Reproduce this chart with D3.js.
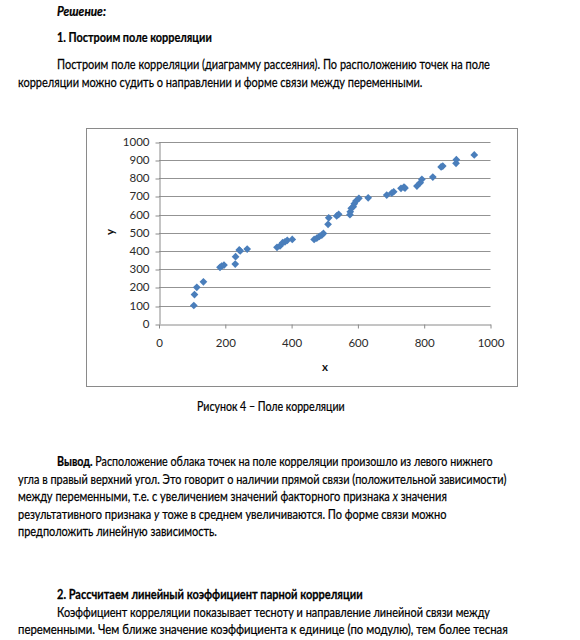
<!DOCTYPE html>
<html>
<head>
<meta charset="utf-8">
<script src="https://cdn.jsdelivr.net/npm/d3@7/dist/d3.min.js"></script>
<style>
  html, body { margin: 0; padding: 0; background: #fff; }
  svg { display: block; }
  text { font-family: Lato, "Open Sans", sans-serif; }
</style>
</head>
<body>
<svg id="page" width="580" height="640"></svg>
<script>
// ---- data ----
const xValues = [105, 107, 114, 134, 184, 189, 196, 230, 231, 242, 245, 266,
  356, 365, 373, 380, 387, 402, 468, 476, 484, 491, 496, 510, 512, 536, 542,
  576, 577, 580, 586, 589, 594, 603, 631, 687, 702, 708, 730, 739, 742, 778,
  788, 793, 826, 851, 856, 896, 897, 951];
const yValues = [100, 160, 200, 230, 310, 317, 322, 328, 368, 405, 400, 410,
  420, 427, 445, 450, 458, 463, 463, 470, 480, 487, 496, 546, 582, 592, 601,
  599, 615, 634, 643, 659, 674, 689, 692, 707, 718, 725, 744, 751, 745, 756,
  775, 793, 806, 861, 866, 881, 901, 927];
const xTicks = [0, 200, 400, 600, 800, 1000];
const yTicks = [0, 100, 200, 300, 400, 500, 600, 700, 800, 900, 1000];
const xTitle = "x";
const yTitle = "y";
const caption = "Рисунок 4 – Поле корреляции";

const svg = d3.select("#page");

// ---- body text ----
const lines = [
  {x: 57, y: 16, w: 49, seg: [["Решение:", "bold", "italic"]]},
  {x: 57, y: 42, w: 155, seg: [["1. Построим поле корреляции", "bold", "normal"]]},
  {x: 57, y: 69, w: 433, seg: [["Построим поле корреляции (диаграмму рассеяния). По расположению точек на поле", "normal", "normal"]]},
  {x: 18, y: 87, w: 405, seg: [["корреляции можно судить о направлении и форме связи между переменными.", "normal", "normal"]]},
  {x: 197, y: 411, w: 148, seg: [[caption, "normal", "normal"]]},
  {x: 57, y: 466, w: 436, seg: [["Вывод.", "bold", "normal"], [" Расположение облака точек на поле корреляции произошло из левого нижнего", "normal", "normal"]]},
  {x: 18, y: 483.5, w: 489, seg: [["угла в правый верхний угол. Это говорит о наличии прямой связи (положительной зависимости)", "normal", "normal"]]},
  {x: 18, y: 501, w: 429, seg: [["между переменными, т.е. с увеличением значений факторного признака ", "normal", "normal"], ["x", "normal", "italic"], [" значения", "normal", "normal"]]},
  {x: 18, y: 518.5, w: 429, seg: [["результативного признака ", "normal", "normal"], ["y", "normal", "italic"], [" тоже в среднем увеличиваются. По форме связи можно", "normal", "normal"]]},
  {x: 18, y: 536, w: 199, seg: [["предположить линейную зависимость.", "normal", "normal"]]},
  {x: 57, y: 599, w: 306, seg: [["2. Рассчитаем линейный коэффициент парной корреляции", "bold", "normal"]]},
  {x: 57, y: 617, w: 433, seg: [["Коэффициент корреляции показывает тесноту и направление линейной связи между", "normal", "normal"]]},
  {x: 18, y: 634, w: 490, seg: [["переменными. Чем ближе значение коэффициента к единице (по модулю), тем более тесная", "normal", "normal"]]}
];

lines.forEach(l => {
  const t = svg.append("text")
    .attr("font-size", 14)
    .attr("fill", "#000")
    .attr("stroke", "#000").attr("stroke-width", 0.25);
  l.seg.forEach(s => {
    t.append("tspan").text(s[0]).attr("font-weight", s[1]).attr("font-style", s[2]);
  });
  const nat = t.node().getComputedTextLength();
  const sx = l.w ? l.w / nat : 1;
  t.attr("transform", `translate(${l.x},${l.y}) scale(${sx},1)`);
});

// ---- chart ----
svg.append("rect")
  .attr("x", 86.5).attr("y", 128.5).attr("width", 431).attr("height", 258)
  .attr("fill", "#fff").attr("stroke", "#8a8a8a").attr("stroke-width", 1);

const plot = {left: 159, right: 490.5, top: 141.7, bottom: 323.7};
const x = d3.scaleLinear().domain([0, 1000]).range([plot.left, plot.right]);
const y = d3.scaleLinear().domain([0, 1000]).range([plot.bottom, plot.top]);

// gridlines
svg.append("g").selectAll("line").data(yTicks.filter(d => d > 0)).join("line")
  .attr("x1", plot.left).attr("x2", plot.right)
  .attr("y1", d => Math.round(y(d)) + 0.5).attr("y2", d => Math.round(y(d)) + 0.5)
  .attr("stroke", "#939393").attr("stroke-width", 1);

// y axis
const yAxis = svg.append("g")
  .attr("transform", `translate(${Math.round(plot.left) + 0.5},0)`)
  .call(d3.axisLeft(y).tickValues(yTicks).tickSize(4).tickSizeOuter(0).tickPadding(6).tickFormat(d3.format("d")));
yAxis.select(".domain").attr("stroke", "#8a8a8a");
yAxis.selectAll(".tick line").attr("stroke", "#8a8a8a")
  .attr("transform", function(d) { return `translate(0,${Math.round(y(d)) + 0.5 - y(d)})`; });
yAxis.selectAll(".tick text").attr("font-family", "Lato, sans-serif").attr("font-size", 11.5).attr("fill", "#2a2a2a");

// x axis
const xAxis = svg.append("g")
  .attr("transform", `translate(0,${Math.round(plot.bottom) + 0.5})`)
  .call(d3.axisBottom(x).tickValues(xTicks).tickSize(4).tickSizeOuter(0).tickPadding(10).tickFormat(d3.format("d")));
xAxis.select(".domain").attr("stroke", "#8a8a8a");
xAxis.selectAll(".tick line").attr("stroke", "#8a8a8a");
xAxis.selectAll(".tick text").attr("font-family", "Lato, sans-serif").attr("font-size", 11.5).attr("fill", "#2a2a2a");

// axis titles
svg.append("text").text(xTitle)
  .attr("x", 325).attr("y", 371).attr("text-anchor", "middle")
  .attr("font-size", 11.5).attr("font-weight", "bold").attr("fill", "#111");
svg.append("text").text(yTitle)
  .attr("transform", "translate(114,232) rotate(-90)").attr("text-anchor", "middle")
  .attr("font-size", 11.5).attr("font-weight", "bold").attr("fill", "#111");

// points
const pts = xValues.map((d, i) => ({x: d, y: yValues[i]}));
const sym = d3.symbol().type(d3.symbolSquare).size(30);
svg.append("g").selectAll("path").data(pts).join("path")
  .attr("d", sym)
  .attr("transform", d => `translate(${x(d.x)},${y(d.y)}) rotate(45)`)
  .attr("fill", "#4A7EBB");
</script>
</body>
</html>
